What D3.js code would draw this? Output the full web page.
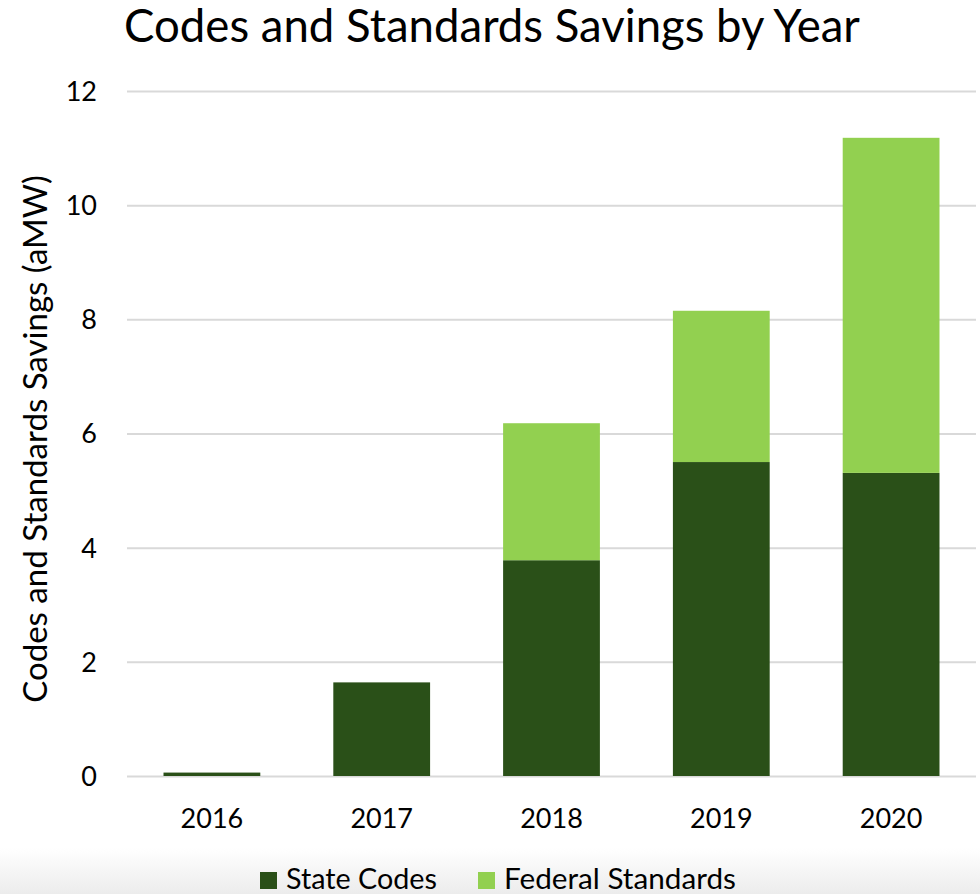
<!DOCTYPE html>
<html>
<head>
<meta charset="utf-8">
<script src="https://cdn.jsdelivr.net/npm/d3@7"></script>
<style>
  html, body { margin: 0; padding: 0; background: #fff; }
  svg { display: block; font-family: Lato, "Open Sans", sans-serif; }
</style>
</head>
<body>
<svg id="chart" width="980" height="894"></svg>
<script>
const years = ["2016", "2017", "2018", "2019", "2020"];
const stateCodes = [0.06, 1.64, 3.78, 5.50, 5.31];
const federalStandards = [0.0, 0.0, 2.40, 2.65, 5.87];
const yTicks = [0, 2, 4, 6, 8, 10, 12];
const seriesNames = ["State Codes", "Federal Standards"];
const colors = ["#2A5018", "#92D050"];

const W = 980, H = 894;
const FONT = "Lato, 'Open Sans', sans-serif";
const svg = d3.select("#chart");

// bottom gradient backdrop
const defs = svg.append("defs");
const grad = defs.append("linearGradient").attr("id", "bg").attr("x1", 0).attr("x2", 0).attr("y1", 0).attr("y2", 1);
grad.append("stop").attr("offset", "0%").attr("stop-color", "#ffffff");
grad.append("stop").attr("offset", "100%").attr("stop-color", "#ececec");
svg.append("rect").attr("x", 0).attr("y", 848).attr("width", W).attr("height", H - 848).attr("fill", "url(#bg)");

const x = d3.scaleBand().domain(years).range([127, 976]).paddingInner(0.43).paddingOuter(0.215);
const y = d3.scaleLinear().domain([0, 12]).range([776, 91]);

// gridlines + y tick labels
const yAxis = d3.axisLeft(y).tickValues(yTicks).tickSize(-(976 - 127)).tickPadding(30);
const gy = svg.append("g").attr("transform", "translate(127,0)").call(yAxis).attr("font-family", FONT);
gy.select(".domain").remove();
gy.selectAll(".tick line").attr("stroke", "#d9d9d9").attr("stroke-width", 2);
gy.selectAll(".tick text").attr("font-size", 27).attr("fill", "#000").attr("x", -30).attr("dy", "0.35em");

// stacked data
const table = years.map((yr, i) => ({ year: yr, "State Codes": stateCodes[i], "Federal Standards": federalStandards[i] }));
const stack = d3.stack().keys(seriesNames)(table);

svg.append("g").selectAll("g").data(stack).join("g")
  .attr("fill", (d, i) => colors[i])
  .selectAll("rect").data(d => d).join("rect")
  .attr("x", d => x(d.data.year))
  .attr("width", x.bandwidth())
  .attr("y", d => y(d[1]))
  .attr("height", d => Math.max(0, y(d[0]) - y(d[1])));

// x axis labels
const xAxis = d3.axisBottom(x).tickSize(0).tickPadding(0);
const gx = svg.append("g").attr("transform", "translate(0,776)").call(xAxis).attr("font-family", FONT);
gx.select(".domain").remove();
gx.selectAll(".tick text").attr("font-size", 27).attr("fill", "#000").attr("dy", null).attr("y", 52);

function fitWidth(sel, target) {
  const w = sel.node().getComputedTextLength();
  const fs = parseFloat(sel.attr("font-size"));
  sel.attr("font-size", fs * target / w);
}

// title
const title = svg.append("text").attr("x", 492).attr("y", 42).attr("text-anchor", "middle")
  .attr("font-size", 44).attr("fill", "#000").text("Codes and Standards Savings by Year");
fitWidth(title, 736);

// y label
const ylab = svg.append("text").attr("transform", "translate(47,439) rotate(-90)").attr("text-anchor", "middle")
  .attr("font-size", 30).attr("fill", "#000").text("Codes and Standards Savings (aMW)");
fitWidth(ylab, 528);

// legend
const legendX = [260, 478];
const legendW = [151, 232];
seriesNames.forEach((name, i) => {
  svg.append("rect").attr("x", legendX[i]).attr("y", 872).attr("width", 17).attr("height", 17).attr("fill", colors[i]);
  const t = svg.append("text").attr("x", legendX[i] + 26).attr("y", 889).attr("font-size", 27).attr("fill", "#000").text(name);
  fitWidth(t, legendW[i]);
});
</script>
</body>
</html>
